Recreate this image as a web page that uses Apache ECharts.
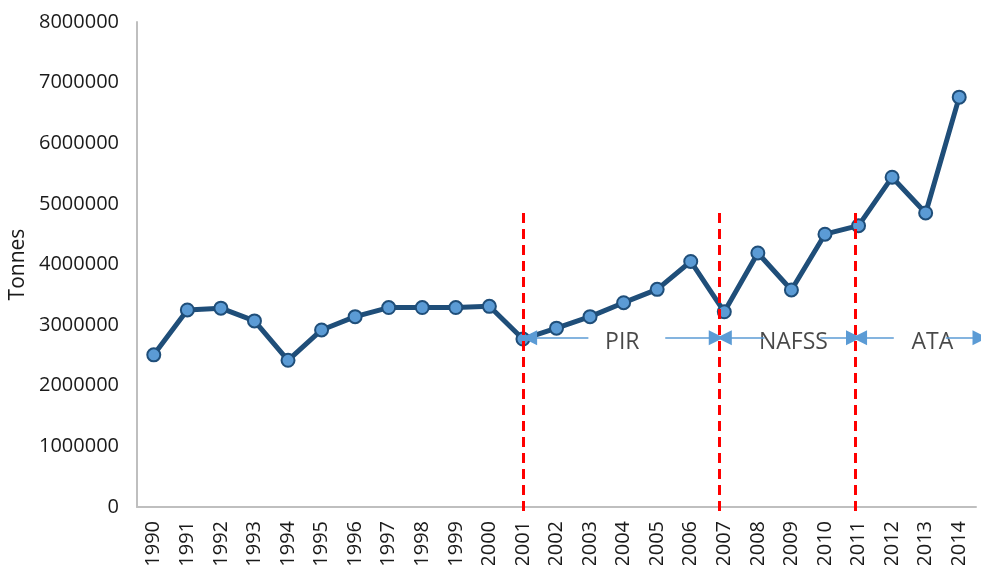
<!DOCTYPE html>
<html>
<head>
<meta charset="utf-8">
<script src="https://cdn.jsdelivr.net/npm/echarts@6/dist/echarts.min.js"></script>
<style>
  html, body { margin: 0; padding: 0; background: #fff; }
  #chart { width: 981px; height: 565px; }
</style>
</head>
<body>
<div id="chart"></div>
<script>
// years on the x axis
var years = ['1990', '1991', '1992', '1993', '1994', '1995', '1996', '1997', '1998', '1999',
  '2000', '2001', '2002', '2003', '2004', '2005', '2006', '2007', '2008', '2009',
  '2010', '2011', '2012', '2013', '2014'];
// tonnes per year
var tonnes = [2510000, 3250000, 3280000, 3070000, 2420000, 2920000, 3140000, 3290000, 3290000, 3290000,
  3310000, 2770000, 2950000, 3140000, 3370000, 3590000, 4050000, 3220000, 4190000, 3580000,
  4500000, 4640000, 5440000, 4850000, 6760000];
var yTicks = [0, 8000000, 1000000]; // min, max, interval

// period dividers, in category index units (2001, ~2007, ~2011)
var dividers = [11.0, 16.85, 20.9];
var dividerTop = 4850000;
var dividerBottom = -110000;

// period labels and their arrows (from, to), index units
var periodNames = ['PIR', 'NAFSS', 'ATA'];
var periodCenters = [13.96, 19.06, 23.2];
var arrowY = 2790000;
var arrowSegs = [
  [12.95, 11.2], [15.24, 16.76],
  [18.2, 17.0], [19.86, 20.85],
  [22.05, 21.03], [23.6, 24.62]
];

var chart = echarts.init(document.getElementById('chart'));
var font = "'Open Sans', 'Noto Sans', sans-serif";

var markData = [];
dividers.forEach(function (x) {
  markData.push([
    { coord: [x, dividerTop], symbol: 'none', lineStyle: { color: '#ff0000', width: 3, type: [10, 6] } },
    { coord: [x, dividerBottom], symbol: 'none' }
  ]);
});
arrowSegs.forEach(function (s) {
  markData.push([
    { coord: [s[0], arrowY], symbol: 'none', lineStyle: { color: '#5b9bd5', width: 1.5, type: 'solid' } },
    { coord: [s[1], arrowY], symbol: 'triangle', symbolSize: [15, 15] }
  ]);
});

var option = {
  animation: false,
  grid: [
    { left: 137, right: 5, top: 22, bottom: 58, outerBoundsMode: 'none', containLabel: false },
    { left: 137, right: 0, top: 22, bottom: 48, outerBoundsMode: 'none', containLabel: false }
  ],
  xAxis: [
    {
      type: 'category',
      data: years,
      gridIndex: 0,
      boundaryGap: true,
      axisLine: { lineStyle: { color: '#bfbfbf', width: 2 } },
      axisTick: { show: false },
      axisLabel: { rotate: 90, fontSize: 20, color: '#1a1a1a', fontFamily: font, margin: 14, interval: 0 }
    },
    {
      type: 'value',
      gridIndex: 1,
      min: -0.5,
      max: -0.5 + 844 / (839 / 25),
      show: false
    }
  ],
  yAxis: [
    {
      type: 'value',
      gridIndex: 0,
      min: yTicks[0],
      max: yTicks[1],
      interval: yTicks[2],
      splitLine: { show: false },
      axisLine: { show: true, lineStyle: { color: '#bfbfbf', width: 2 } },
      axisTick: { show: false },
      axisLabel: {
        fontSize: 20, color: '#1a1a1a', fontFamily: font, margin: 18,
        formatter: function (v) { return String(v); }
      },
      name: 'Tonnes',
      nameLocation: 'middle',
      nameGap: 107,
      nameRotate: 90,
      nameTextStyle: { fontSize: 21, color: '#1a1a1a', fontFamily: font }
    },
    {
      type: 'value',
      gridIndex: 1,
      min: yTicks[0] - 10 / (485 / yTicks[1]),
      max: yTicks[1],
      show: false
    }
  ],
  series: [
    {
      name: 'Tonnes',
      type: 'line',
      xAxisIndex: 0,
      yAxisIndex: 0,
      data: tonnes,
      symbol: 'circle',
      symbolSize: 13,
      lineStyle: { color: '#1f4e79', width: 5 },
      itemStyle: { color: '#5b9bd5', borderColor: '#1f4e79', borderWidth: 2 },
      z: 3
    },
    {
      name: 'periods',
      type: 'scatter',
      xAxisIndex: 1,
      yAxisIndex: 1,
      symbolSize: 0,
      data: periodNames.map(function (n, i) {
        return { name: n, value: [periodCenters[i], arrowY] };
      }),
      label: {
        show: true,
        position: 'inside',
        formatter: '{b}',
        fontSize: 23,
        color: '#1a1a1a',
        fontFamily: font,
        offset: [0, 5]
      },
      markLine: {
        silent: true,
        animation: false,
        label: { show: false },
        data: markData
      },
      z: 4
    }
  ]
};
chart.setOption(option);
</script>
</body>
</html>
